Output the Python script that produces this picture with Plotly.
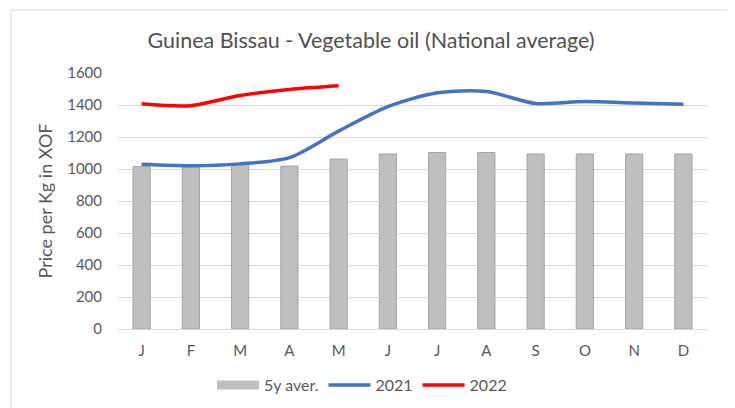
import plotly.graph_objects as go

months = ["J", "F", "M", "A", "M ", "J ", "J  ", "A ", "S", "O", "N", "D"]
avg5y = [1015, 1012, 1030, 1018, 1062, 1094, 1103, 1103, 1094, 1094, 1094, 1094]
y2021 = [1029, 1020, 1032, 1071, 1237, 1390, 1476, 1484, 1410, 1422, 1413, 1405]
y2022 = [1408, 1396, 1460, 1497, 1520]

grey = "#595959"
FONT = "Lato"
fig = go.Figure()
fig.add_trace(go.Bar(x=months, y=avg5y, name="5y aver.", width=0.35, showlegend=False,
                     marker=dict(color="#bfbfbf", line=dict(color="#a6a6a6", width=1))))
# legend swatch for the bars (wide rectangle like the original)
fig.add_trace(go.Scatter(x=[None], y=[None], name="5y aver.", mode="lines",
                         line=dict(color="#bfbfbf", width=9)))
fig.add_trace(go.Scatter(x=months, y=y2021, name="2021", mode="lines",
                         line=dict(color="#4472c4", width=3.5, shape="spline", smoothing=0.8)))
fig.add_trace(go.Scatter(x=months[:5], y=y2022, name="2022", mode="lines",
                         line=dict(color="#ff0000", width=3.5, shape="spline", smoothing=0.8)))

fig.update_layout(
    width=735, height=408,
    margin=dict(l=109, r=35, t=65, b=87),
    paper_bgcolor="white", plot_bgcolor="white",
    font=dict(family=FONT, color=grey, size=15),
    title=dict(text="Guinea Bissau - Vegetable oil (National average)",
               x=(371 - 8) / 735, xanchor="center", y=1 - 32 / 408, yanchor="middle",
               font=dict(size=21.5, color="#505050", family=FONT)),
    showlegend=True,
    legend=dict(orientation="h", x=(362 - 117) / 591, xanchor="center",
                y=-(377 - 321) / 256, yanchor="middle",
                font=dict(size=16, color=grey, family=FONT), itemwidth=42,
                traceorder="normal"),
    xaxis=dict(tickmode="array", tickvals=months, ticktext=[m.strip() for m in months],
               showgrid=False, showline=True, linecolor="#d9d9d9", linewidth=1,
               ticks="", tickfont=dict(size=15, color=grey), ticklabelstandoff=8),
    yaxis=dict(range=[0, 1600], dtick=200, showgrid=True, gridcolor="#d9d9d9",
               gridwidth=1, zeroline=False, ticks="", tickfont=dict(size=15, color=grey),
               ticklabelstandoff=14,
               title=dict(text="Price per Kg in XOF", font=dict(size=18, color=grey), standoff=9)),
    shapes=[dict(type="rect", xref="paper", yref="paper",
                 x0=(11 - 117) / 591, x1=(730 - 117) / 591,
                 y0=-0.6, y1=(329 - 10) / 256,
                 line=dict(color="#d9d9d9", width=1), fillcolor="rgba(0,0,0,0)", layer="below")],
)

fig.write_html("out.html")
